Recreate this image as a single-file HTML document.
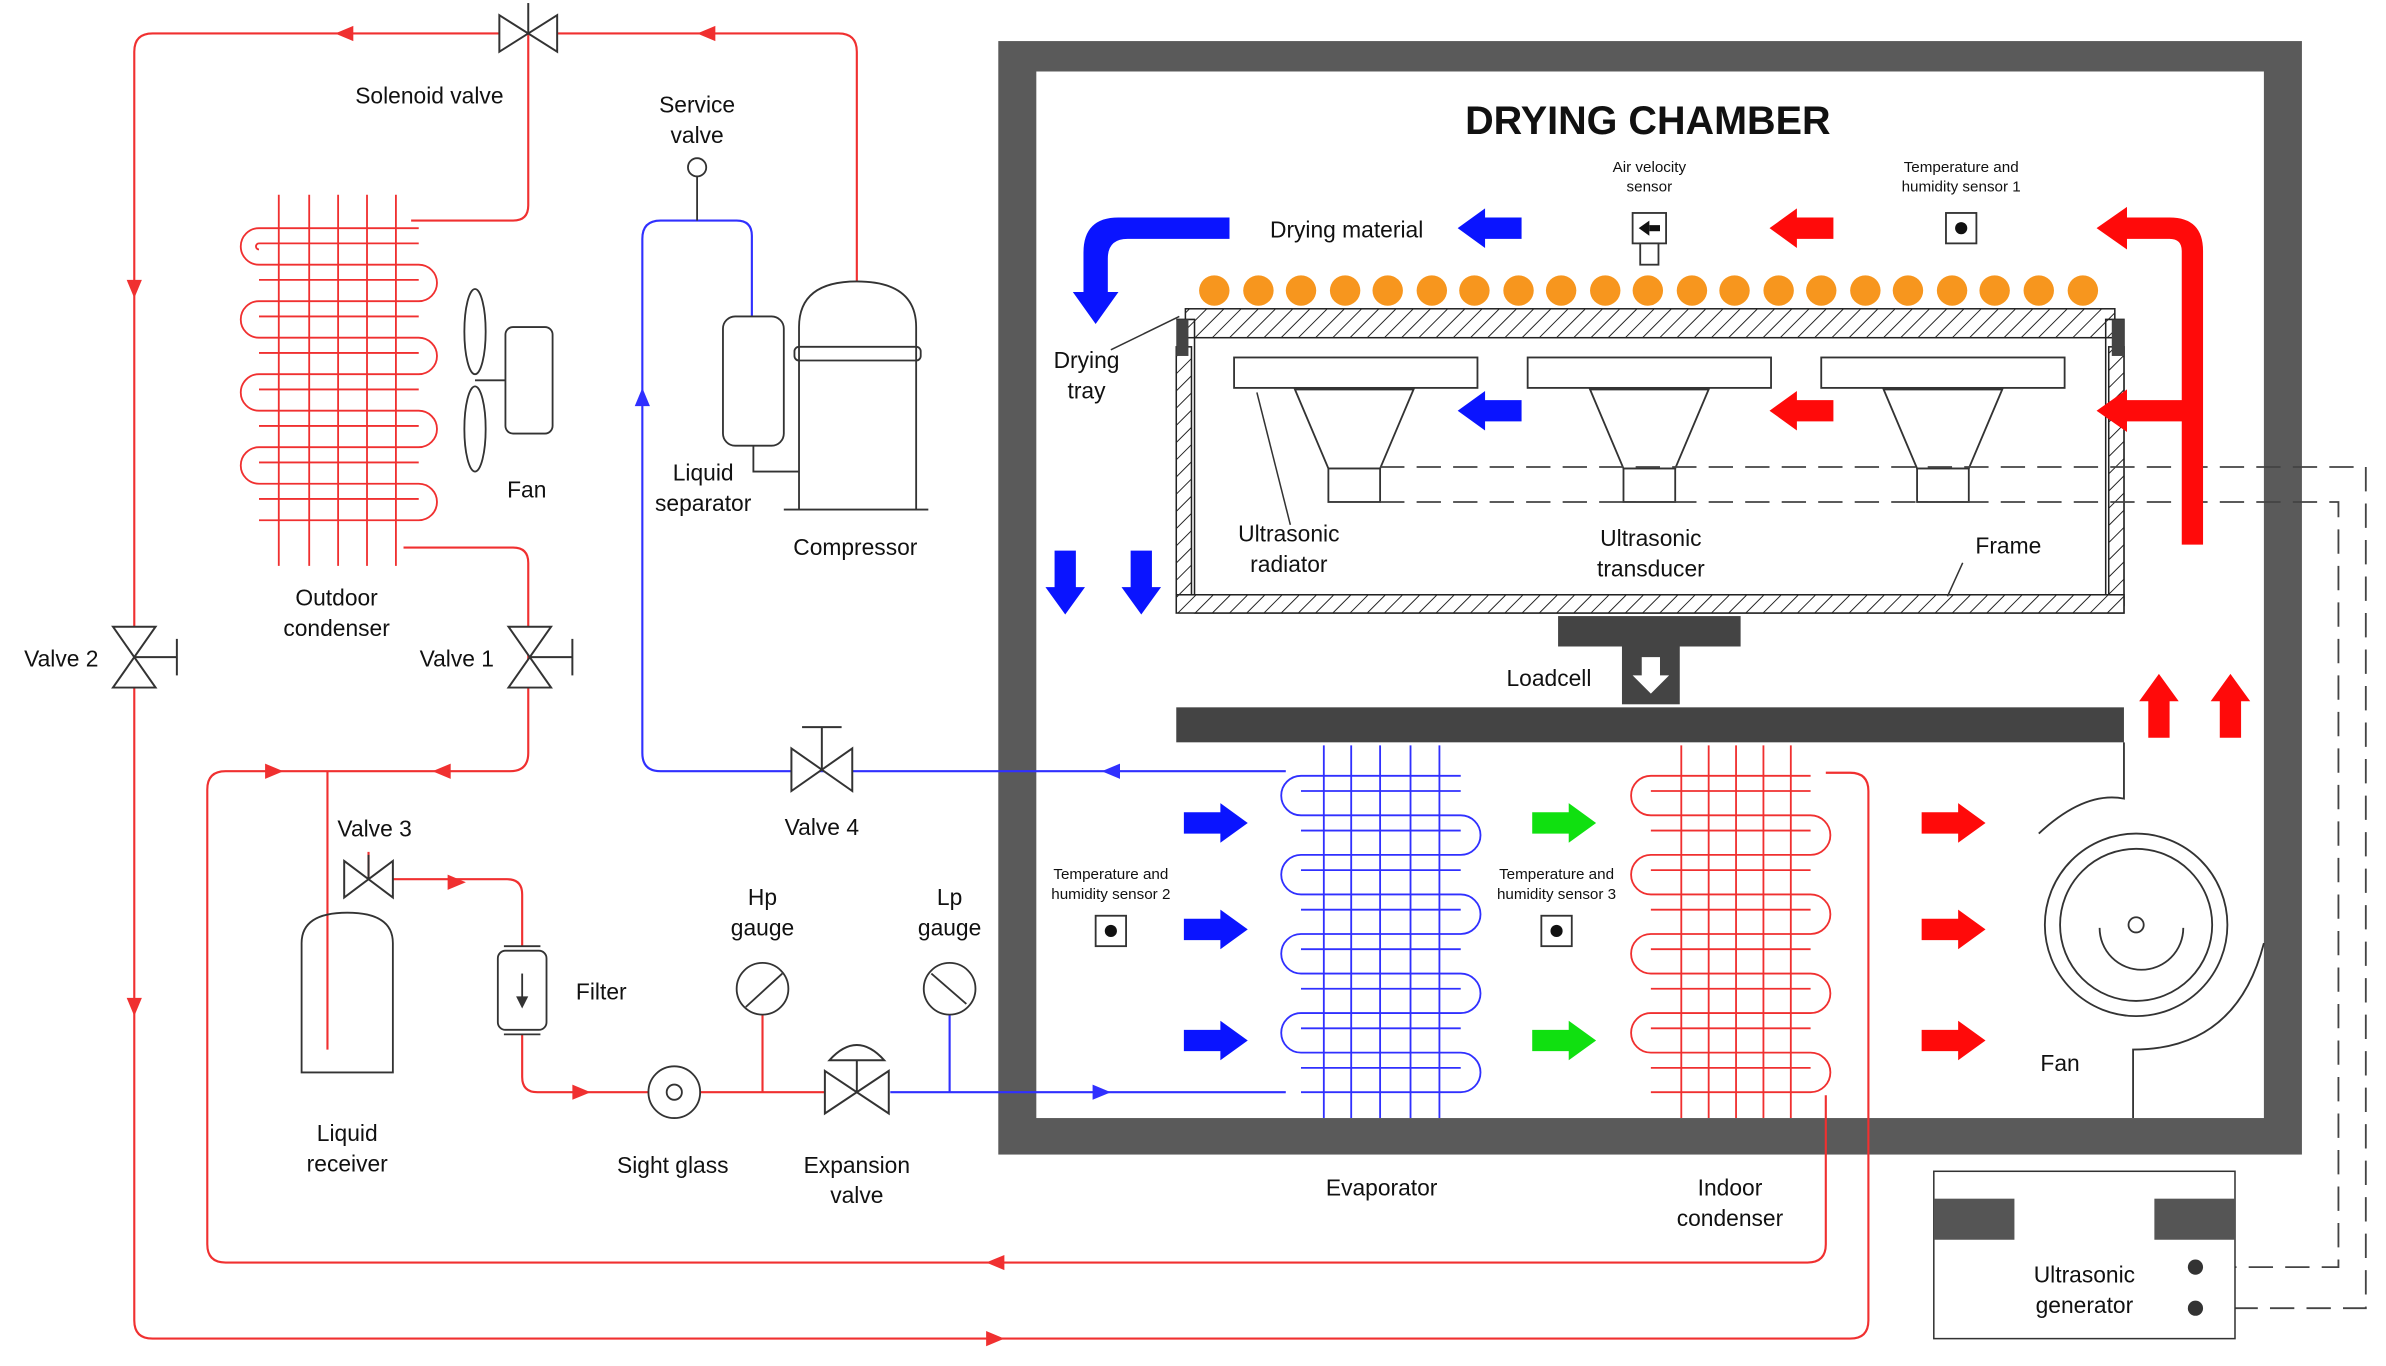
<!DOCTYPE html>
<html><head><meta charset="utf-8"><style>html,body{margin:0;padding:0;background:#fff}svg{display:block}</style></head>
<body>
<svg width="2386" height="1366" viewBox="0 0 1568 898" xmlns="http://www.w3.org/2000/svg" font-family="Liberation Sans, sans-serif">
<defs>
<pattern id="h" width="8" height="8" patternUnits="userSpaceOnUse" patternTransform="rotate(45)"><rect width="8" height="8" fill="#fff"/><line x1="0" y1="0" x2="0" y2="8" stroke="#222" stroke-width="1.3"/></pattern>
<g id="ar"><polygon points="0,-7 24,-7 24,-13 42,0 24,13 24,7 0,7"/></g>
</defs>
<rect width="1568" height="898" fill="#fff"/>
<!-- chamber -->
<rect x="656" y="27" width="857" height="732" fill="#5a5a5a"/>
<rect x="681" y="47" width="807" height="688" fill="#fff"/>
<text x="1083" y="88" font-size="26" font-weight="bold" text-anchor="middle" fill="#111">DRYING CHAMBER</text>
<!-- red pipes -->
<g fill="none" stroke="#f03030" stroke-width="1.4">
<path d="M347,22 H100 Q88,22 88,34 V868 Q88,880 100,880 H1216 Q1228,880 1228,868 V520 Q1228,508 1216,508 H1200"/>
<path d="M347,22 H551 Q563,22 563,34 V185"/>
<path d="M347,22 V135 Q347,145 337,145 H270"/>
<path d="M265,360 H337 Q347,360 347,370 V495 Q347,507 335,507 H148 Q136,507 136,519 V818 Q136,830 148,830 H1188 Q1200,830 1200,818 V720"/>
<path d="M215,507 V690"/>
<path d="M242,560 V578 H333 Q343,578 343,588 V622"/>
<path d="M343,680 V708 Q343,718 353,718 H562"/>
<path d="M501,660 V718"/>
</g>
<g fill="#f03030">
<polygon points="220,22 232,17 232,27"/><polygon points="458,22 470,17 470,27"/>
<polygon points="88,196 83,184 93,184"/><polygon points="88,668 83,656 93,656"/>
<polygon points="660,880 648,875 648,885"/><polygon points="648,830 660,825 660,835"/>
<polygon points="186,507 174,502 174,512"/><polygon points="284,507 296,502 296,512"/>
<polygon points="306,580 294,575 294,585"/><polygon points="388,718 376,713 376,723"/>
</g>
<!-- blue pipes -->
<g fill="none" stroke="#3030ff" stroke-width="1.4">
<path d="M845,507 H434 Q422,507 422,495 V157 Q422,145 434,145 H484 Q494,145 494,155 V208"/>
<path d="M585,718 H845"/>
<path d="M624,660 V718"/>
</g>
<g fill="#3030ff"><polygon points="422,255 417,267 427,267"/><polygon points="724,507 736,502 736,512"/><polygon points="730,718 718,713 718,723"/></g>
<!-- outdoor condenser -->
<path fill="none" stroke="#f03030" stroke-width="1.2" d="M275,150 H170 A12,12 0 0 0 170,174 H275 A12,12 0 0 1 275,198 H170 A12,12 0 0 0 170,222 H275 A12,12 0 0 1 275,246 H170 A12,12 0 0 0 170,270 H275 A12,12 0 0 1 275,294 H170 A12,12 0 0 0 170,318 H275 A12,12 0 0 1 275,342 H170 M275,160 H170 A2,2 0 0 0 170,164 M170,184 H275 M170,208 H275 M170,232 H275 M170,256 H275 M170,280 H275 M170,304 H275 M170,328 H275"/>
<g stroke="#f03030" stroke-width="1.2"><line x1="183" y1="128" x2="183" y2="372"/><line x1="203" y1="128" x2="203" y2="372"/><line x1="222" y1="128" x2="222" y2="372"/><line x1="241" y1="128" x2="241" y2="372"/><line x1="260" y1="128" x2="260" y2="372"/></g>
<!-- fan left -->
<g fill="none" stroke="#333" stroke-width="1.2">
<ellipse cx="312" cy="218" rx="7" ry="28"/><ellipse cx="312" cy="282" rx="7" ry="28"/><line x1="312" y1="250" x2="332" y2="250"/>
<rect x="332" y="215" width="31" height="70" rx="5"/>
<!-- compressor -->
<path d="M525,335 V215 Q525,185 563,185 Q602,185 602,215 V335"/><rect x="522" y="228" width="83" height="9" rx="3"/>
<line x1="515" y1="335" x2="610" y2="335"/>
<rect x="475" y="208" width="40" height="85" rx="8"/>
<path d="M495,293 V310 H525"/>
<!-- service valve -->
<circle cx="458" cy="110" r="6"/><line x1="458" y1="116" x2="458" y2="145"/>
<!-- receiver -->
<path d="M198,705 V620 Q198,600 228,600 Q258,600 258,620 V705 Z"/>
<!-- filter -->
<rect x="327" y="625" width="32" height="52" rx="5"/><line x1="331" y1="622" x2="355" y2="622"/><line x1="331" y1="680" x2="355" y2="680"/>
<line x1="343" y1="640" x2="343" y2="660"/>
<!-- sight glass -->
<circle cx="443" cy="718" r="17" fill="#fff"/><circle cx="443" cy="718" r="5"/>
<!-- gauges -->
<circle cx="501" cy="650" r="17" fill="#fff"/><line x1="490" y1="662" x2="514" y2="640"/>
<circle cx="624" cy="650" r="17" fill="#fff"/><line x1="612" y1="640" x2="635" y2="660"/>
</g>
<polygon points="339,655 347,655 343,663" fill="#333"/>
<!-- valves (bowties) -->
<g fill="#fff" stroke="#333" stroke-width="1.3">
<polygon points="328,10 366,34 366,10 328,34"/><line x1="347" y1="22" x2="347" y2="2"/>
<polygon points="74,412 102,452 74,452 102,412"/><line x1="88" y1="432" x2="116" y2="432"/><line x1="116" y1="420" x2="116" y2="444"/>
<polygon points="334,412 362,452 334,452 362,412"/><line x1="348" y1="432" x2="376" y2="432"/><line x1="376" y1="420" x2="376" y2="444"/>
<polygon points="520,492 560,520 560,492 520,520"/><line x1="540" y1="506" x2="540" y2="478"/><line x1="527" y1="478" x2="553" y2="478"/>
<polygon points="226,566 258,590 258,566 226,590"/><line x1="242" y1="578" x2="242" y2="562"/>
<polygon points="542,704 584,732 584,704 542,732"/><line x1="563" y1="718" x2="563" y2="696"/><path d="M545,697 Q563,677 581,697 Z"/>
</g>
<!-- tray, frame -->
<rect x="779" y="203" width="611" height="19" fill="url(#h)" stroke="#222"/>
<path d="M773,210 H785 V403 H1396 V210 H1384 V391 H785" fill="none" stroke="#222"/>
<rect x="773" y="228" width="10" height="170" fill="url(#h)" stroke="#222"/>
<rect x="1386" y="228" width="10" height="170" fill="url(#h)" stroke="#222"/>
<rect x="773" y="391" width="623" height="12" fill="url(#h)" stroke="#222"/>
<rect x="773" y="210" width="8" height="24" fill="#444"/><rect x="1388" y="210" width="8" height="24" fill="#444"/>
<g fill="#f7961e">
<circle cx="798" cy="191" r="10"/><circle cx="827" cy="191" r="10"/><circle cx="855" cy="191" r="10"/><circle cx="884" cy="191" r="10"/><circle cx="912" cy="191" r="10"/><circle cx="941" cy="191" r="10"/><circle cx="969" cy="191" r="10"/><circle cx="998" cy="191" r="10"/><circle cx="1026" cy="191" r="10"/><circle cx="1055" cy="191" r="10"/><circle cx="1083" cy="191" r="10"/><circle cx="1112" cy="191" r="10"/><circle cx="1140" cy="191" r="10"/><circle cx="1169" cy="191" r="10"/><circle cx="1197" cy="191" r="10"/><circle cx="1226" cy="191" r="10"/><circle cx="1254" cy="191" r="10"/><circle cx="1283" cy="191" r="10"/><circle cx="1311" cy="191" r="10"/><circle cx="1340" cy="191" r="10"/><circle cx="1369" cy="191" r="10"/>
</g>
<!-- transducers -->
<g fill="#fff" stroke="#333" stroke-width="1.2">
<rect x="811" y="235" width="160" height="20"/><polygon points="851,256 929,256 907,308 873,308"/><rect x="873" y="308" width="34" height="22"/>
<rect x="1004" y="235" width="160" height="20"/><polygon points="1045,256 1123,256 1101,308 1067,308"/><rect x="1067" y="308" width="34" height="22"/>
<rect x="1197" y="235" width="160" height="20"/><polygon points="1238,256 1316,256 1294,308 1260,308"/><rect x="1260" y="308" width="34" height="22"/>
</g>
<g fill="none" stroke="#444" stroke-width="1.2" stroke-dasharray="16,8">
<path d="M907,307 H1555 V860 H1450"/><path d="M907,330 H1537 V833 H1450"/>
</g>
<g stroke="#333" stroke-width="1"><line x1="848" y1="345" x2="826" y2="258"/><line x1="1290" y1="370" x2="1280" y2="392"/><line x1="730" y1="230" x2="775" y2="208"/></g>
<!-- loadcell -->
<rect x="1024" y="405" width="120" height="20" fill="#444"/>
<rect x="1066" y="425" width="38" height="38" fill="#444"/>
<polygon points="1079,432 1091,432 1091,444 1097,444 1085,456 1073,444 1079,444" fill="#fff"/>
<rect x="773" y="465" width="623" height="23" fill="#444"/>
<!-- evaporator -->
<path fill="none" stroke="#3030ff" stroke-width="1.2" d="M960,510 H855 A13,13 0 0 0 855,536 H960 A13,13 0 0 1 960,562 H855 A13,13 0 0 0 855,588 H960 A13,13 0 0 1 960,614 H855 A13,13 0 0 0 855,640 H960 A13,13 0 0 1 960,666 H855 A13,13 0 0 0 855,692 H960 A13,13 0 0 1 960,718 H855 M855,520 H960 M855,546 H960 M855,572 H960 M855,598 H960 M855,624 H960 M855,650 H960 M855,676 H960 M855,702 H960"/>
<g stroke="#3030ff" stroke-width="1.2"><line x1="870" y1="490" x2="870" y2="735"/><line x1="888" y1="490" x2="888" y2="735"/><line x1="907" y1="490" x2="907" y2="735"/><line x1="927" y1="490" x2="927" y2="735"/><line x1="946" y1="490" x2="946" y2="735"/></g>
<path fill="none" stroke="#f03030" stroke-width="1.2" d="M1190,510 H1085 A13,13 0 0 0 1085,536 H1190 A13,13 0 0 1 1190,562 H1085 A13,13 0 0 0 1085,588 H1190 A13,13 0 0 1 1190,614 H1085 A13,13 0 0 0 1085,640 H1190 A13,13 0 0 1 1190,666 H1085 A13,13 0 0 0 1085,692 H1190 A13,13 0 0 1 1190,718 H1085 M1085,520 H1190 M1085,546 H1190 M1085,572 H1190 M1085,598 H1190 M1085,624 H1190 M1085,650 H1190 M1085,676 H1190 M1085,702 H1190"/>
<g stroke="#f03030" stroke-width="1.2"><line x1="1105" y1="490" x2="1105" y2="735"/><line x1="1123" y1="490" x2="1123" y2="735"/><line x1="1141" y1="490" x2="1141" y2="735"/><line x1="1159" y1="490" x2="1159" y2="735"/><line x1="1177" y1="490" x2="1177" y2="735"/></g>
<!-- fan right -->
<g fill="none" stroke="#333" stroke-width="1.2">
<circle cx="1404" cy="608" r="60"/><circle cx="1404" cy="608" r="50"/><circle cx="1404" cy="608" r="5"/>
<path d="M1380,610 A25,25 0 0 0 1435,610"/><path d="M1340,548 Q1370,520 1396,525 V488"/>
<path d="M1488,620 Q1470,690 1402,690 V735"/>
</g>
<!-- sensors -->
<g fill="#fff" stroke="#333" stroke-width="1.2">
<rect x="1073" y="140" width="22" height="20"/><rect x="1078" y="160" width="12" height="14"/>
<rect x="1279" y="140" width="20" height="20"/>
<rect x="720" y="602" width="20" height="20"/><rect x="1013" y="602" width="20" height="20"/>
</g>
<g fill="#111"><circle cx="1289" cy="150" r="4"/><circle cx="730" cy="612" r="4"/><circle cx="1023" cy="612" r="4"/><polygon points="1077,150 1084,145 1084,155"/><rect x="1084" y="148" width="7" height="4"/></g>
<!-- generator -->
<rect x="1271" y="770" width="198" height="110" fill="#fff" stroke="#333"/>
<rect x="1271" y="788" width="53" height="27" fill="#555"/><rect x="1416" y="788" width="53" height="27" fill="#555"/>
<circle cx="1443" cy="833" r="5" fill="#333"/><circle cx="1443" cy="860" r="5" fill="#333"/>
<!-- arrows -->
<g fill="#0a14ff">
<use href="#ar" x="778" y="541"/><use href="#ar" x="778" y="611"/><use href="#ar" x="778" y="684"/>
<use href="#ar" transform="translate(1000,150) scale(-1,1)"/><use href="#ar" transform="translate(1000,270) scale(-1,1)"/>
<use href="#ar" transform="translate(700,362) rotate(90)"/><use href="#ar" transform="translate(750,362) rotate(90)"/>
<path d="M808,143 H735 Q712,143 712,166 V192 H705 L720,213 L735,192 H728 V170 Q728,157 741,157 H808 Z"/>
</g>
<g fill="#10e010"><use href="#ar" x="1007" y="541"/><use href="#ar" x="1007" y="684"/></g>
<g fill="#ff0a0a">
<use href="#ar" x="1263" y="541"/><use href="#ar" x="1263" y="611"/><use href="#ar" x="1263" y="684"/>
<use href="#ar" transform="translate(1205,150) scale(-1,1)"/><use href="#ar" transform="translate(1205,270) scale(-1,1)"/>
<use href="#ar" transform="translate(1419,485) rotate(-90)"/><use href="#ar" transform="translate(1466,485) rotate(-90)"/>
<path d="M1448,358 V165 Q1448,143 1426,143 H1398 V136 L1378,150 L1398,164 V157 H1426 Q1434,157 1434,165 V263 H1398 V256 L1378,270 L1398,284 V277 H1434 V358 Z"/>
</g>
<!-- labels -->
<g font-size="15" fill="#111" text-anchor="middle">
<text x="282" y="68">Solenoid valve</text>
<text x="458" y="74">Service</text><text x="458" y="94">valve</text>
<text x="346" y="327">Fan</text>
<text x="462" y="316">Liquid</text><text x="462" y="336">separator</text>
<text x="562" y="365">Compressor</text>
<text x="221" y="398">Outdoor</text><text x="221" y="418">condenser</text>
<text x="40" y="438">Valve 2</text><text x="300" y="438">Valve 1</text>
<text x="246" y="550">Valve 3</text><text x="540" y="549">Valve 4</text>
<text x="501" y="595">Hp</text><text x="501" y="615">gauge</text>
<text x="624" y="595">Lp</text><text x="624" y="615">gauge</text>
<text x="395" y="657">Filter</text>
<text x="228" y="750">Liquid</text><text x="228" y="770">receiver</text>
<text x="442" y="771">Sight glass</text>
<text x="563" y="771">Expansion</text><text x="563" y="791">valve</text>
<text x="885" y="156">Drying material</text>
<text x="714" y="242">Drying</text><text x="714" y="262">tray</text>
<text x="847" y="356">Ultrasonic</text><text x="847" y="376">radiator</text>
<text x="1085" y="359">Ultrasonic</text><text x="1085" y="379">transducer</text>
<text x="1320" y="364">Frame</text>
<text x="1018" y="451">Loadcell</text>
<text x="1354" y="704">Fan</text>
<text x="908" y="786">Evaporator</text>
<text x="1137" y="786">Indoor</text><text x="1137" y="806">condenser</text>
<text x="1370" y="843">Ultrasonic</text><text x="1370" y="863">generator</text>
</g>
<g font-size="10" fill="#111" text-anchor="middle">
<text x="1084" y="113">Air velocity</text><text x="1084" y="126">sensor</text>
<text x="1289" y="113">Temperature and</text><text x="1289" y="126">humidity sensor 1</text>
<text x="730" y="578">Temperature and</text><text x="730" y="591">humidity sensor 2</text>
<text x="1023" y="578">Temperature and</text><text x="1023" y="591">humidity sensor 3</text>
</g>
</svg>
</body></html>
